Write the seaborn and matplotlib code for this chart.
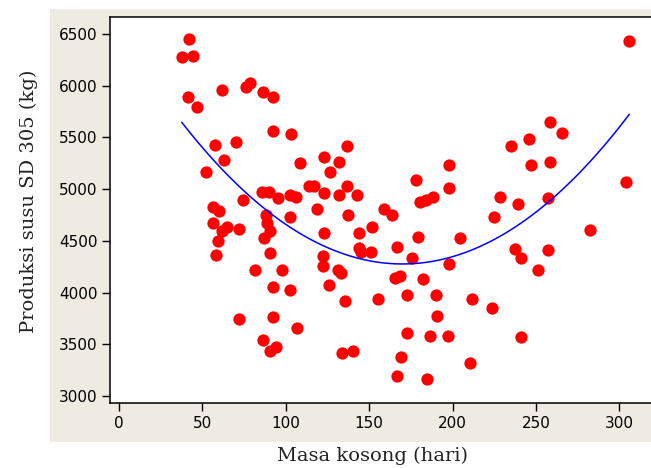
import numpy as np
import pandas as pd
import matplotlib
matplotlib.use("Agg")
import matplotlib.pyplot as plt
import seaborn as sns
from matplotlib.patches import Rectangle

# Masa kosong (hari) vs produksi susu SD 305 (kg)
masa_kosong = [42.0, 37.6, 44.2, 41.2, 46.6, 62.0, 76.0, 78.4, 86.2, 92.6,
               92.6, 103.2, 57.4, 70.0, 62.8, 52.0, 108.6, 123.2, 126.6, 114.0,
               117.2, 123.2, 86.0, 90.0, 95.2, 74.4, 102.8, 106.4, 118.6, 56.6,
               60.2, 88.0, 102.4, 56.6, 65.0, 62.0, 72.0, 89.0, 90.6, 87.2,
               59.2, 123.2, 58.2, 90.6, 122.4, 122.4, 131.2, 133.2, 81.6, 98.0,
               125.8, 92.6, 102.4, 72.0, 92.6, 107.0, 86.2, 94.4, 90.6, 136.6,
               132.0, 136.6, 132.0, 142.8, 137.2, 159.0, 163.8, 178.0, 197.8, 197.8,
               180.6, 184.0, 188.0, 224.6, 143.8, 152.0, 143.8, 145.2, 151.2, 166.4,
               179.0, 204.2, 175.4, 197.8, 135.6, 155.6, 165.2, 168.4, 182.4, 172.6,
               189.8, 211.4, 223.6, 190.8, 172.8, 186.2, 197.0, 134.0, 140.4, 169.2,
               210.4, 166.4, 184.4, 306.0, 258.2, 265.6, 245.6, 234.8, 247.2, 258.2,
               304.2, 228.6, 239.4, 257.4, 282.6, 237.6, 241.2, 257.4, 251.2, 241.2]

produksi = [6449, 6274, 6287, 5888, 5797, 5961, 5990, 6023, 5936, 5888,
            5562, 5533, 5427, 5459, 5282, 5163, 5253, 5314, 5163, 5033,
            5033, 4960, 4972, 4972, 4911, 4895, 4946, 4927, 4808, 4824,
            4791, 4753, 4728, 4675, 4631, 4598, 4615, 4675, 4598, 4528,
            4496, 4573, 4366, 4380, 4354, 4260, 4218, 4192, 4218, 4218,
            4070, 4051, 4025, 3744, 3761, 3654, 3538, 3477, 3435, 5417,
            5265, 5033, 4940, 4940, 4750, 4811, 4750, 5088, 5236, 5014,
            4879, 4895, 4927, 4726, 4573, 4631, 4428, 4395, 4395, 4438,
            4540, 4528, 4337, 4279, 3921, 3938, 4144, 4160, 4128, 3979,
            3979, 3935, 3848, 3773, 3609, 3583, 3583, 3418, 3432, 3374,
            3316, 3196, 3164, 6435, 5652, 5546, 5488, 5414, 5236, 5265,
            5072, 4927, 4853, 4911, 4602, 4424, 4334, 4409, 4215, 3567]

x_ticks = [0, 50, 100, 150, 200, 250, 300]
y_ticks = [3000, 3500, 4000, 4500, 5000, 5500, 6000, 6500]

df = pd.DataFrame({"masa": masa_kosong, "produksi": produksi})

sns.set_theme(style="ticks")
plt.rcParams["font.family"] = ["DejaVu Sans"]

W, H = 651, 468
fig = plt.figure(figsize=(W / 100, H / 100), dpi=100)
fig.patch.set_facecolor("white")

# beige panel behind the plot
fig.add_artist(Rectangle((50 / W, 1 - 442 / H), 1, (442 - 9) / H,
                         transform=fig.transFigure, color="#efebe2",
                         zorder=-1, lw=0))

ax = fig.add_axes([110 / W, 1 - 403 / H, 544 / W, 386 / H])
ax.set_facecolor("white")

sns.regplot(data=df, x="masa", y="produksi", order=2, ci=None, ax=ax,
            scatter_kws=dict(color="red", s=78, linewidths=0, alpha=1, zorder=2),
            line_kws=dict(color="blue", lw=1.1, zorder=3))

ax.set_xlim(-5.4, 320.8)
ax.set_ylim(2932, 6664)
ax.set_xticks(x_ticks)
ax.set_yticks(y_ticks)
ax.tick_params(direction="out", length=6, width=1, labelsize=11, pad=3,
               colors="black")
for sp in ax.spines.values():
    sp.set_color("black")
    sp.set_linewidth(1.1)

ax.set_xlabel("Masa kosong (hari)", family="DejaVu Serif", fontsize=14,
              color="#222222")
ax.set_ylabel("Produksi susu SD 305 (kg)", family="DejaVu Serif", fontsize=14,
              color="#222222")
ax.xaxis.set_label_coords((372.5 - 110) / 544, (403 - 447) / 386)
ax.yaxis.set_label_coords((38 - 110) / 544, (403 - 201) / 386)

fig.savefig("out.png", dpi=100)
